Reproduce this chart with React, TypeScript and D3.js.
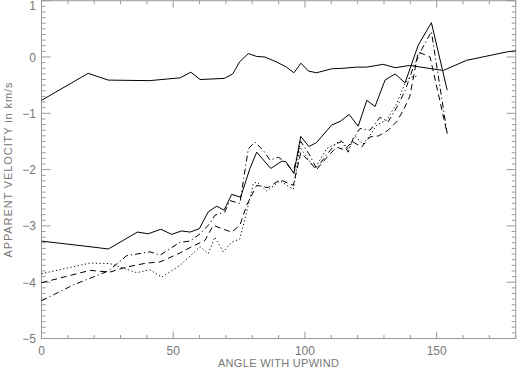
import React from 'react'
import * as d3 from 'd3'

// angle (deg) and apparent velocity (km/s) for each curve
const upperAngle = [0, 17.7, 25.3, 41, 52.6, 56.7, 60.2, 69.4, 72.6, 75.3, 78.5, 81.7, 84.8, 89.3, 93, 95.8, 98.5, 101.3, 104.4, 110.1, 114.5, 119.6, 123.4, 129.7, 134.2, 139.8, 152.5, 161.3, 176.6, 180]
const upperVel = [-0.77, -0.29, -0.41, -0.42, -0.37, -0.27, -0.4, -0.38, -0.3, -0.08, 0.06, 0.01, 0.0, -0.09, -0.18, -0.28, -0.11, -0.25, -0.28, -0.21, -0.2, -0.18, -0.18, -0.13, -0.19, -0.15, -0.24, -0.06, 0.09, 0.11]

const solidAngle = [0, 18.4, 25.4, 36.4, 40.5, 45.3, 49.4, 53.2, 56.4, 59.9, 63.3, 66.5, 69.3, 72.2, 75.6, 79.1, 81.7, 87, 91.2, 92.8, 95.8, 98.4, 101.5, 104.4, 110.1, 113.5, 116.8, 120.2, 123.5, 126.6, 130.4, 134.2, 138, 143, 148, 154]
const solidVel = [-3.27, -3.37, -3.41, -3.11, -3.14, -3.06, -3.15, -3.09, -3.11, -3.05, -2.75, -2.65, -2.72, -2.44, -2.49, -1.98, -1.69, -1.98, -1.85, -1.86, -2.07, -1.41, -1.59, -1.52, -1.21, -1.14, -1.02, -1.23, -0.77, -0.88, -0.41, -0.3, -0.46, 0.21, 0.61, -0.59]

const dashAngle = [0, 18.4, 26, 32.3, 39.9, 45, 52.6, 57, 62, 65.2, 68.5, 72.2, 75.3, 77.9, 81.7, 86, 90.5, 95.6, 98.4, 101.5, 104.4, 108, 112, 115, 118, 121.5, 124.7, 128, 131.6, 134.8, 137.3, 139.8, 143, 147.5, 154]
const dashVel = [-4.01, -3.79, -3.82, -3.73, -3.66, -3.64, -3.48, -3.37, -3.26, -2.99, -3.05, -3.11, -2.99, -2.63, -2.28, -2.32, -2.18, -2.28, -1.7, -1.85, -2.0, -1.8, -1.6, -1.65, -1.5, -1.6, -1.42, -1.4, -1.3, -1.15, -0.95, -0.7, 0.09, 0.0, -1.36]

const dashDotAngle = [0, 12, 25.4, 32.3, 41.2, 45, 52.6, 56.4, 60.2, 63.9, 65.8, 69.6, 71.5, 75.3, 78.5, 81, 84.2, 86.7, 89.9, 92.4, 95.6, 98.4, 101.5, 104.4, 108, 111.5, 114, 116.4, 118.3, 120.9, 124.7, 128.5, 131.6, 134.8, 138, 141, 144.5, 148, 154]
const dashDotVel = [-4.33, -4.05, -3.8, -3.53, -3.46, -3.52, -3.29, -3.27, -3.14, -2.96, -2.81, -2.75, -2.55, -2.6, -1.63, -1.51, -1.66, -1.83, -1.78, -1.86, -2.04, -1.5, -1.72, -1.98, -1.75, -1.55, -1.5, -1.69, -1.45, -1.27, -1.3, -1.07, -1.15, -0.9, -0.6, -0.2, 0.15, 0.45, -1.36]

const dotAngle = [0, 18.4, 26, 36.1, 41.2, 45.6, 52.6, 60.2, 63.3, 65.8, 69, 72.2, 75.3, 77.9, 80.4, 81.7, 85.5, 90.5, 95.6, 98.1, 101, 103.8, 108.2, 113.9, 116.4, 119, 122, 124.7, 127.2, 131, 134.8, 138, 139.8, 143]
const dotVel = [-3.85, -3.66, -3.67, -3.83, -3.78, -3.91, -3.7, -3.37, -3.49, -3.2, -3.46, -3.29, -3.23, -2.75, -2.25, -2.22, -2.38, -2.2, -2.35, -1.6, -1.8, -1.98, -1.63, -1.48, -1.65, -1.4, -1.55, -1.39, -1.21, -1.12, -0.83, -0.47, -0.36, -0.34]

const xTickValues = [0, 50, 100, 150]
const yTickValues = [-5, -4, -3, -2, -1, 0, 1]

const W = 517
const H = 370
const axisColor = '#999'
const textColor = '#777'

export default function App() {
  const x = d3.scaleLinear().domain([0, 180]).range([41.5, 515.7])
  const y = d3.scaleLinear().domain([-5, 1]).range([338.5, 0.7])

  const line = (ax: number[], vy: number[]) =>
    d3.line<number>()
      .x((d) => x(d))
      .y((d, i) => y(vy[i]))(ax) || ''

  const series = [
    { ax: upperAngle, vy: upperVel, dash: null },
    { ax: solidAngle, vy: solidVel, dash: null },
    { ax: dashAngle, vy: dashVel, dash: '6,4' },
    { ax: dashDotAngle, vy: dashDotVel, dash: '6,3,1.2,3' },
    { ax: dotAngle, vy: dotVel, dash: '1.2,2.5' }
  ]

  const [x0, x1] = x.range()
  const [yb, yt] = y.range()
  const xMinor = d3.range(0, 181, 10)
  const yMinor = d3.range(-50, 11, 1).map((v) => v / 10)

  return (
    <svg
      width={W}
      height={H}
      style={{ position: 'absolute', left: 0, top: 0, background: '#fff' }}
      fontFamily="'Liberation Sans', Arial, sans-serif"
    >
      {/* frame */}
      <rect x={x0} y={yt} width={x1 - x0} height={yb - yt} fill="none" stroke={axisColor} strokeWidth={1} />

      {/* x ticks, bottom and top */}
      {xMinor.map((v) => {
        const major = v % 50 === 0
        const len = major ? 7 : 3.5
        return (
          <g key={'xt' + v} stroke={axisColor}>
            <line x1={x(v)} x2={x(v)} y1={yb} y2={yb - len} />
            <line x1={x(v)} x2={x(v)} y1={yt} y2={yt + len} />
          </g>
        )
      })}
      {/* y ticks, left and right */}
      {yMinor.map((v, i) => {
        const major = i % 10 === 0
        const len = major ? 9 : 4
        return (
          <g key={'yt' + i} stroke={axisColor}>
            <line x1={x0} x2={x0 + len} y1={y(v)} y2={y(v)} />
            <line x1={x1} x2={x1 - len} y1={y(v)} y2={y(v)} />
          </g>
        )
      })}

      {xTickValues.map((v) => (
        <text key={'xl' + v} x={x(v)} y={355} textAnchor="middle" fontSize={12} fill={textColor}>
          {v}
        </text>
      ))}
      {yTickValues.map((v) => (
        <text
          key={'yl' + v}
          x={36}
          y={Math.max(y(v), 5) + 4.5}
          textAnchor="end"
          fontSize={12}
          fill={textColor}
        >
          {v < 0 ? '\u2212' + Math.abs(v) : v}
        </text>
      ))}

      <text x={(x0 + x1) / 2} y={367} textAnchor="middle" fontSize={11} letterSpacing={0.3} fill={textColor}>
        ANGLE WITH UPWIND
      </text>
      <text
        transform={`translate(12,${(yb + yt) / 2}) rotate(-90)`}
        textAnchor="middle"
        fontSize={11}
        letterSpacing={0.9}
        fill={textColor}
      >
        APPARENT VELOCITY in km/s
      </text>

      {series.map((s, i) => (
        <path
          key={'s' + i}
          d={line(s.ax, s.vy)}
          fill="none"
          stroke="#000"
          strokeWidth={1}
          strokeDasharray={s.dash || undefined}
        />
      ))}
    </svg>
  )
}
